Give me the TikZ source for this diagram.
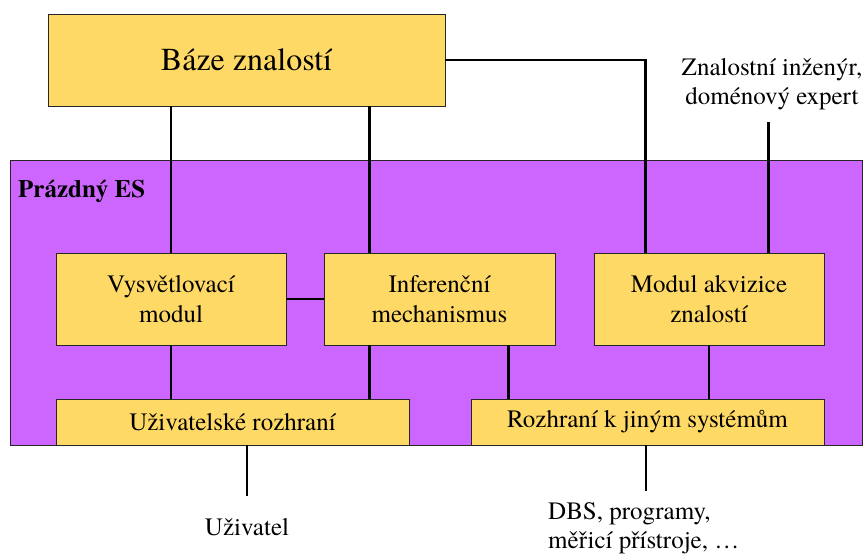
\documentclass[tikz,border=0pt]{standalone}
\usepackage{fontspec}
\setmainfont{texgyretermes}[Extension=.otf, UprightFont=*-regular, BoldFont=*-bold, ItalicFont=*-italic, BoldItalicFont=*-bolditalic]
\usetikzlibrary{positioning}
\definecolor{boxyellow}{HTML}{FFD966}
\definecolor{espurple}{HTML}{CC66FF}
\tikzset{
    mybox/.style = {rectangle, draw=black!85, line width=0.9pt, fill=boxyellow, align=center, inner sep=0pt, font=\fontsize{25}{30}\selectfont},
    esframe/.style = {rectangle, draw=black!85, line width=0.9pt, fill=espurple, inner sep=0pt},
    mytext/.style = {align=center, inner sep=0pt, font=\fontsize{25}{29}\selectfont},
    edgel/.style = {line width=2.2pt, black}
}

\begin{document}
\begin{tikzpicture}[x=1pt,y=-1pt]
\useasboundingbox (0,0) rectangle (866,557);
\node[esframe, minimum width=852pt, minimum height=285pt] at (436,302.5) (es) {};
\node[anchor=west, inner sep=0pt, font=\fontsize{25}{30}\selectfont\bfseries] at (18,191) (esl) {Prázdný ES};
%
\node[mybox, minimum width=397pt, minimum height=92pt, font=\fontsize{32}{36}\selectfont] at (246.5,60) (baze) {Báze znalostí};
\node[mybox, minimum width=230pt, minimum height=92pt] at (171,299) (vysv) {Vysvětlovací\\modul};
\node[mybox, minimum width=231pt, minimum height=92pt] at (439.5,299) (infer) {Inferenční\\mechanismus};
\node[mybox, minimum width=230pt, minimum height=92pt] at (709,299) (modul) {Modul akvizice\\znalostí};
\node[mybox, minimum width=353pt, minimum height=46pt] at (232.5,422) (uroz) {Uživatelské rozhraní};
\node[mybox, minimum width=353pt, minimum height=46pt] at (647.5,422) (jroz) {Rozhraní k jiným systémům};
%
\node[mytext] at (772,84) (ing) {Znalostní inženýr,\\doménový expert};
\node[mytext] at (247,527) (uziv) {Uživatel};
\node[mytext, align=left, anchor=west] at (548,528) (dbs) {DBS, programy,\\měřicí přístroje, \dots};
%
\coordinate (i1) at ([xshift=46pt]infer.north west);
\coordinate (i2) at ([xshift=185pt]infer.south west);
\coordinate (m1) at ([xshift=52pt]modul.north west);
\coordinate (m2) at ([xshift=175pt]modul.north west);
\coordinate (u1) at ([yshift=22pt]uziv.north);
\coordinate (d1) at (646,491);
%
\draw[edgel] (vysv.north |- baze.south) -- (vysv.north);
\draw[edgel] (i1 |- baze.south) -- (i1);
\draw[edgel] (baze.east) -| (m1);
\draw[edgel] (m2 |- 0,122) -- (m2);
\draw[edgel] (vysv) -- (infer);
\draw[edgel] (vysv.south) -- (vysv.south |- uroz.north);
\draw[edgel] (i1 |- infer.south) -- (i1 |- uroz.north);
\draw[edgel] (i2) -- (i2 |- jroz.north);
\draw[edgel] (modul.south) -- (modul.south |- jroz.north);
\draw[edgel] (u1 |- uroz.south) -- (u1);
\draw[edgel] (d1 |- jroz.south) -- (d1);
\end{tikzpicture}
\end{document}
